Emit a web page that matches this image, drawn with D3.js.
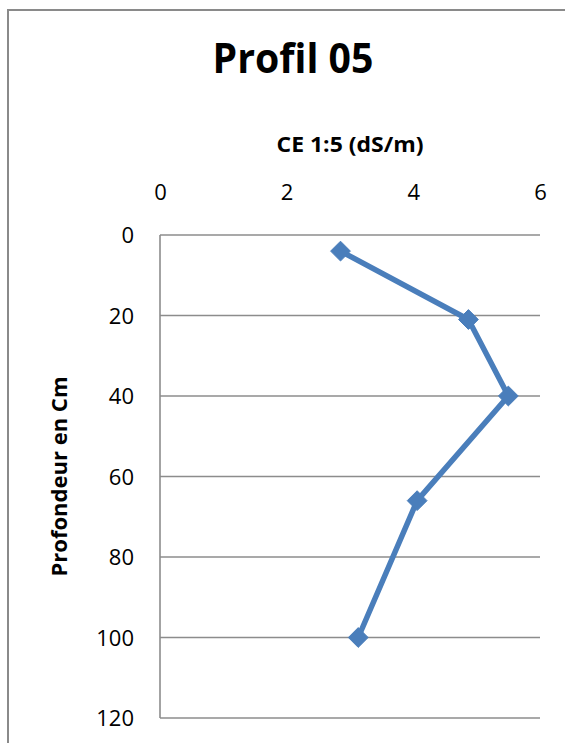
<!DOCTYPE html>
<html>
<head>
<meta charset="utf-8">
<script src="https://cdn.jsdelivr.net/npm/d3@7"></script>
<style>
  html, body { margin: 0; padding: 0; background: #fff; overflow: hidden; }
  svg { display: block; }
</style>
</head>
<body>
<script>
// Electrical conductivity profile (CE 1:5) against soil depth
const chartTitle = "Profil 05";
const xAxisTitle = "CE 1:5 (dS/m)";
const yAxisTitle = "Profondeur en Cm";
const ceValues = [2.85, 4.87, 5.5, 4.06, 3.13];
const depthValues = [4, 21, 40, 66, 100];
const xTicks = [0, 2, 4, 6];
const yTicks = [0, 20, 40, 60, 80, 100, 120];

const W = 565, H = 743;
const svg = d3.select("body").append("svg").attr("width", W).attr("height", H);

// chart frame: left and top edges (the rest lies beyond the visible area)
svg.append("line")
  .attr("x1", 8).attr("x2", 8).attr("y1", 9).attr("y2", H)
  .attr("stroke", "#8a8a8a").attr("stroke-width", 2);
svg.append("line")
  .attr("x1", 7).attr("x2", W).attr("y1", 10).attr("y2", 10)
  .attr("stroke", "#8a8a8a").attr("stroke-width", 2);

const plot = { left: 160, right: 540, top: 235, bottom: 718 };
const x = d3.scaleLinear().domain([0, 6]).range([plot.left, plot.right]);
const y = d3.scaleLinear().domain([0, 120]).range([plot.top, plot.bottom]);

// horizontal gridlines
svg.append("g").selectAll("line").data(yTicks).join("line")
  .attr("x1", plot.left).attr("x2", plot.right)
  .attr("y1", d => y(d)).attr("y2", d => y(d))
  .attr("stroke", "#8c8c8c").attr("stroke-width", 1.6);

// vertical axis line
svg.append("line")
  .attr("x1", plot.left).attr("x2", plot.left)
  .attr("y1", plot.top).attr("y2", plot.bottom)
  .attr("stroke", "#8c8c8c").attr("stroke-width", 1.6);

// top axis tick labels
const xAxis = d3.axisTop(x).tickValues(xTicks).tickFormat(d3.format("d"))
  .tickSize(0).tickPadding(0);
const gx = svg.append("g").attr("transform", `translate(0, 200)`).call(xAxis);
gx.select(".domain").remove();
gx.selectAll("text")
  .attr("font-family", "'Open Sans', sans-serif").attr("font-size", 22)
  .attr("fill", "#000").attr("dy", 0);

// left axis tick labels
const yAxis = d3.axisLeft(y).tickValues(yTicks).tickFormat(d3.format("d"))
  .tickSize(0).tickPadding(0);
const gy = svg.append("g").attr("transform", `translate(134, 0)`).call(yAxis);
gy.select(".domain").remove();
gy.selectAll("text")
  .attr("font-family", "'Open Sans', sans-serif").attr("font-size", 22)
  .attr("fill", "#000").attr("dy", "0.35em");

// titles
svg.append("text")
  .attr("x", 293).attr("y", 73)
  .attr("text-anchor", "middle")
  .attr("font-family", "'Open Sans', sans-serif").attr("font-weight", "bold")
  .attr("font-size", 41)
  .attr("textLength", 161).attr("lengthAdjust", "spacingAndGlyphs")
  .text(chartTitle);

svg.append("text")
  .attr("x", 350).attr("y", 152)
  .attr("text-anchor", "middle")
  .attr("font-family", "'Open Sans', sans-serif").attr("font-weight", "bold")
  .attr("font-size", 21)
  .attr("textLength", 147).attr("lengthAdjust", "spacingAndGlyphs")
  .text(xAxisTitle);

svg.append("text")
  .attr("transform", `translate(67, ${(plot.top + plot.bottom) / 2}) rotate(-90)`)
  .attr("text-anchor", "middle")
  .attr("font-family", "'Open Sans', sans-serif").attr("font-weight", "bold")
  .attr("font-size", 22)
  .attr("textLength", 200).attr("lengthAdjust", "spacingAndGlyphs")
  .text(yAxisTitle);

// profile line and diamond markers
const pts = ceValues.map((v, i) => [v, depthValues[i]]);
const line = d3.line().x(d => x(d[0])).y(d => y(d[1]));
svg.append("path")
  .datum(pts)
  .attr("d", line)
  .attr("fill", "none").attr("stroke", "#4a7ebb")
  .attr("stroke-width", 5.5).attr("stroke-linejoin", "round");

const diamond = d3.symbol().type(d3.symbolDiamond2).size(250);
svg.append("g").selectAll("path").data(pts).join("path")
  .attr("d", diamond)
  .attr("transform", d => `translate(${x(d[0])}, ${y(d[1])})`)
  .attr("fill", "#4a7ebb").attr("stroke", "#4a7ebb").attr("stroke-width", 1);
</script>
</body>
</html>
